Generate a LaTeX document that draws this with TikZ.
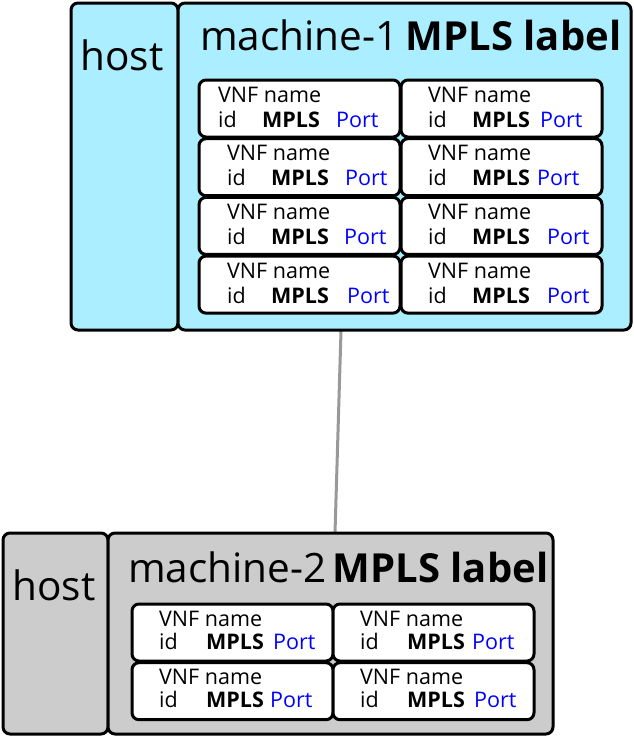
\documentclass[tikz,border=0pt]{standalone}
\usepackage{fontspec}
\setmainfont{Open Sans}
\usetikzlibrary{positioning, calc}
\definecolor{machinecyan}{HTML}{AAEEFF}
\definecolor{machinegray}{HTML}{CCCCCC}
\definecolor{linkgray}{HTML}{999999}
\definecolor{portblue}{HTML}{0000FF}

\begin{document}
\begin{tikzpicture}[
        x=1pt, y=-1pt,
        box/.style={
          draw, line width=3pt, rounded corners=7pt, anchor=north west, inner sep=0pt, outer sep=0pt
        },
        vnfbox/.style={
          box, fill=white, minimum width=201pt, minimum height=57pt
        },
        title/.style={
          anchor=base west, inner sep=0pt, font=\fontsize{40.5}{46}\selectfont
        },
        boldtitle/.style={
          title, font=\fontsize{40}{46}\selectfont\bfseries
        },
        vnftext/.style={
          anchor=base west, inner sep=0pt, font=\fontsize{21.5}{26}\selectfont
        },
        porttext/.style={
          vnftext, text=portblue
        },
        link/.style={
          draw=linkgray, line width=3pt
        },
      ]
        \useasboundingbox (0,0) rectangle (634,737);

        % link between the machines
        \coordinate (m1_link) at (341,331);
        \coordinate (m2_link) at (335,533);
        \draw [link] (m1_link) -- (m2_link);

        % machine-1
        \node [box, fill=machinecyan, minimum width=107pt, minimum height=327pt] (m1_host) at (71,3) {};
        \node [box, fill=machinecyan, minimum width=453pt, minimum height=327pt] (m1_main) at (178,3) {};
        \node [title, anchor=base] (m1_host_label) at (122,70) {host};
        \node [title] (m1_name) at (200,50) {machine-1};
        \node [boldtitle, right=7pt of m1_name.base east, anchor=base west] (m1_mpls) {MPLS label};

        % VNF boxes of machine-1
        \foreach \r/\c/\t/\p in {0/0/19/137, 1/0/28/146, 2/0/28/145, 3/0/28/148,
                                 0/1/27/139, 1/1/27/136, 2/1/27/146, 3/1/27/146}{
          \node [vnfbox] (m1_vnf_\r_\c) at ({199+202*\c},{80+58.7*\r}) {};
          \node [vnftext] at ($(m1_vnf_\r_\c.north west)+(\t,22)$) {VNF name};
          \node [vnftext] at ($(m1_vnf_\r_\c.north west)+(\t,47)$) {id};
          \node [vnftext, font=\fontsize{21.5}{26}\selectfont\bfseries] at ($(m1_vnf_\r_\c.north west)+(\t+44,47)$) {MPLS};
          \node [porttext] at ($(m1_vnf_\r_\c.north west)+(\p,47)$) {Port};
        }

        % machine-2
        \node [box, fill=machinegray, minimum width=105pt, minimum height=201pt] (m2_host) at (3,533) {};
        \node [box, fill=machinegray, minimum width=445pt, minimum height=201pt] (m2_main) at (108,533) {};
        \node [title, anchor=base] (m2_host_label) at (54,600) {host};
        \node [title] (m2_name) at (128,582) {machine-2};
        \node [boldtitle, right=6pt of m2_name.base east, anchor=base west] (m2_mpls) {MPLS label};

        % VNF boxes of machine-2
        \foreach \r/\c/\p in {0/0/141, 1/0/138, 0/1/139, 1/1/141}{
          \node [vnfbox] (m2_vnf_\r_\c) at ({132+201*\c},{604+58.7*\r}) {};
          \node [vnftext] at ($(m2_vnf_\r_\c.north west)+(27,22)$) {VNF name};
          \node [vnftext] at ($(m2_vnf_\r_\c.north west)+(27,45)$) {id};
          \node [vnftext, font=\fontsize{21.5}{26}\selectfont\bfseries] at ($(m2_vnf_\r_\c.north west)+(74,45)$) {MPLS};
          \node [porttext] at ($(m2_vnf_\r_\c.north west)+(\p,45)$) {Port};
        }

      \end{tikzpicture}
\end{document}
